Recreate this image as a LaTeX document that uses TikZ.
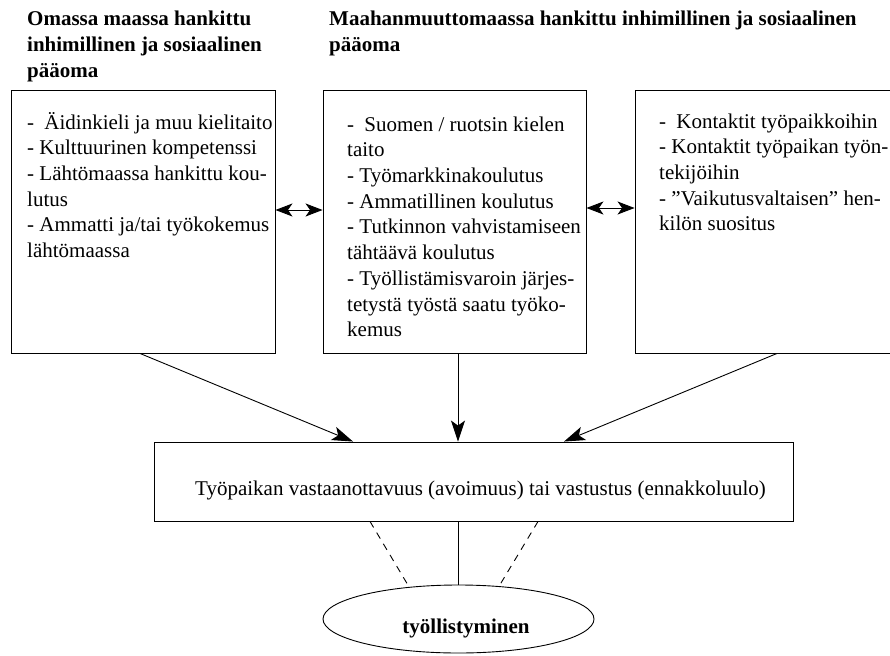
\documentclass[tikz,border=0pt]{standalone}
\usepackage{fontspec}
\setmainfont{Liberation Serif}
\usetikzlibrary{arrows.meta,shapes.geometric}
\tikzset{
  tipdown/.tip={Stealth[length=21pt,width=14pt,inset=5pt]},
  tipdbl/.tip={Stealth[length=17pt,width=13pt,inset=4.5pt]}
}
\begin{document}
\begin{tikzpicture}[x=1pt,y=-1pt,
  box/.style={draw,line width=0.9pt,rectangle,inner sep=0pt},
  body/.style={anchor=north west,inner sep=0pt,align=left,font=\fontsize{21}{25.7}\selectfont},
  head/.style={anchor=north west,inner sep=0pt,align=left,font=\fontsize{21}{26.2}\selectfont\bfseries},
  conn/.style={line width=0.9pt},
  arr/.style={conn,-tipdown},
  dbl/.style={conn,tipdbl-tipdbl},
  dsh/.style={conn,dash pattern=on 7pt off 6pt}]
\useasboundingbox (0,0) rectangle (890,655);

% headings
\node[head] (h1) at (27,6.7) {\strut Omassa maassa hankittu\\inhimillinen ja sosiaalinen\\pääoma};
\node[head] (h2) at (329,6.7) {\strut Maahanmuuttomaassa hankittu inhimillinen ja sosiaalinen\\pääoma};

% boxes
\node[box,minimum width=264pt,minimum height=263pt] (L) at (143,221.5) {};
\node[box,minimum width=263pt,minimum height=263pt] (M) at (454.5,221.5) {};
\node[box,minimum width=270pt,minimum height=263pt] (R) at (770,221.5) {};
\node[box,minimum width=638.5pt,minimum height=79pt] (B) at (473.75,481.5) {};
\node[draw,line width=0.9pt,ellipse,inner sep=0pt,minimum width=271pt,minimum height=68pt] (E) at (458.5,619) {};

% texts
\node[body] (Lt) at (27,111) {\strut -\hspace{5pt} Äidinkieli ja muu kielitaito\\- Kulttuurinen kompetenssi\\- Lähtömaassa hankittu kou-\\lutus\\- Ammatti ja/tai työkokemus\\lähtömaassa};
\node[body] (Mt) at (347,113) {\strut -\hspace{5pt} Suomen / ruotsin kielen\\taito\\- Työmarkkinakoulutus\\- Ammatillinen koulutus\\- Tutkinnon vahvistamiseen\\tähtäävä koulutus\\- Työllistämisvaroin järjes-\\tetystä työstä saatu työko-\\kemus};
\node[body] (Rt) at (659,110) {\strut -\hspace{5pt} Kontaktit työpaikkoihin\\- Kontaktit työpaikan työn-\\tekijöihin\\- ”Vaikutusvaltaisen” hen-\\kilön suositus};
\node[anchor=base west,inner sep=0pt,font=\fontsize{21}{25.7}\selectfont] (Bt) at (195,495) {Työpaikan vastaanottavuus (avoimuus) tai vastustus (ennakkoluulo)};
\node[anchor=base,inner sep=0pt,font=\fontsize{21}{25.7}\selectfont\bfseries] (Et) at (466,633) {työllistyminen};

% connectors
\draw[dbl] ([yshift=11.5pt]L.east) -- ([yshift=11.5pt]M.west);
\draw[dbl] ([yshift=13.5pt]M.east) -- ([yshift=13.5pt]R.west);
\draw[arr] ([xshift=-3pt]L.south) -- ([xshift=-120.75pt]B.north);
\draw[arr] ([xshift=3.5pt]M.south) -- ([xshift=-15.75pt]B.north);
\draw[arr] ([xshift=7pt]R.south) -- ([xshift=90.25pt]B.north);
\draw[conn] (E.north |- B.south) -- (E.north);
\draw[dsh] ([xshift=-103.75pt]B.south) -- (E.147);
\draw[dsh] ([xshift=64.25pt]B.south) -- (E.39.5);
\end{tikzpicture}
\end{document}
